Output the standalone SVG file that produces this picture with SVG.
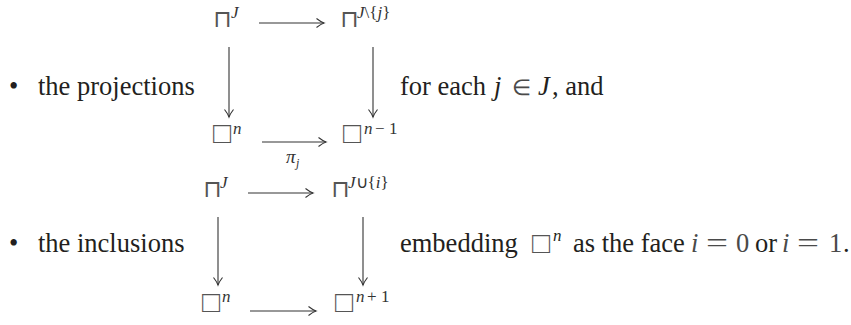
<svg xmlns="http://www.w3.org/2000/svg" width="851" height="325" viewBox="0 0 851 325">
<style>
.t{font-family:"Liberation Serif","Times New Roman",serif;font-size:26.5px;fill:#231f20}
.i{font-style:italic}
.g{fill:#4a4a4a}
.sym{font-family:"DejaVu Sans",sans-serif;font-size:24px;fill:#555;font-style:normal}
.box{font-family:"Liberation Serif","DejaVu Sans",serif;font-size:30px;fill:#555;font-style:normal}
.n{font-family:"Liberation Serif","Times New Roman",serif;font-size:17px;fill:#333}
.sp{font-size:17px}
.lab{font-family:"Liberation Serif","Times New Roman",serif;font-size:19px;fill:#333}
.ar{stroke:#333;stroke-width:1.1;fill:none}
</style>
<defs>
<marker id="ah" markerWidth="10" markerHeight="10" refX="0" refY="0" viewBox="-8 -5 10 10" markerUnits="userSpaceOnUse" orient="auto">
<path d="M-7.5,-4.5 Q-3,-1 0,0 Q-3,1 -7.5,4.5" stroke="#333" stroke-width="1.1" fill="none"/>
</marker>
</defs>
<rect width="851" height="325" fill="#fff"/>

<g id="line1">
<text class="t" x="9" y="95">•</text>
<text class="t" x="38" y="95">the projections</text>
<text class="t" x="400" y="95">for each <tspan class="i" x="494">j</tspan><tspan x="512" class="g" font-size="22">∈</tspan><tspan class="i" x="538">J</tspan><tspan x="552">, and</tspan></text>
</g>

<g id="line2">
<text class="t" x="9" y="252">•</text>
<text class="t" x="38" y="252">the inclusions</text>
<text class="t" x="400" y="252">embedding</text>
<text class="t"><tspan class="box" x="532" y="253">□</tspan><tspan class="i sp" x="553" y="241">n</tspan></text>
<text class="t" x="573" y="252">as the face</text>
<text class="t g" x="691" y="252"><tspan class="i">i</tspan></text>
<text class="t g" x="706" y="252" textLength="22" lengthAdjust="spacingAndGlyphs">=</text>
<text class="t g" x="736" y="252">0</text>
<text class="t" x="755" y="252">or</text>
<text class="t g" x="782" y="252"><tspan class="i">i</tspan></text>
<text class="t g" x="797" y="252" textLength="22" lengthAdjust="spacingAndGlyphs">=</text>
<text class="t g" x="829" y="252">1</text>
<text class="t" x="843" y="252">.</text>
</g>

<g id="d1-tl"><text class="n"><tspan class="sym" x="213" y="27">⊓</tspan><tspan class="i" x="231" y="18">J</tspan></text></g>
<g id="d1-tr"><text class="n"><tspan class="sym" x="340" y="27">⊓</tspan><tspan class="i" x="357" y="18">J</tspan><tspan>\{</tspan><tspan class="i">j</tspan><tspan>}</tspan></text></g>
<g id="d1-bl"><text class="n"><tspan class="box" x="213" y="143">□</tspan><tspan class="i" x="233" y="134">n</tspan></text></g>
<g id="d1-br"><text class="n"><tspan class="box" x="343" y="143">□</tspan><tspan class="i" x="364" y="134">n</tspan><tspan x="375">−</tspan><tspan x="389">1</tspan></text></g>
<g id="d1-lab"><text class="lab"><tspan class="i" x="286" y="163">π</tspan><tspan class="i" font-size="12" x="296" y="167">j</tspan></text></g>

<g id="d2-tl"><text class="n"><tspan class="sym" x="203" y="197">⊓</tspan><tspan class="i" x="220" y="188">J</tspan></text></g>
<g id="d2-tr"><text class="n"><tspan class="sym" x="331" y="197">⊓</tspan><tspan class="i" x="348" y="188">J</tspan><tspan>∪{</tspan><tspan class="i">i</tspan><tspan>}</tspan></text></g>
<g id="d2-bl"><text class="n"><tspan class="box" x="202" y="312">□</tspan><tspan class="i" x="222" y="302">n</tspan></text></g>
<g id="d2-br"><text class="n"><tspan class="box" x="335" y="312">□</tspan><tspan class="i" x="356" y="302">n</tspan><tspan x="367">+</tspan><tspan x="381">1</tspan></text></g>

<g id="connectors">
<line class="ar" x1="259" y1="23" x2="324" y2="23" marker-end="url(#ah)"/>
<line class="ar" x1="262" y1="142" x2="326" y2="142" marker-end="url(#ah)"/>
<line class="ar" x1="229" y1="47" x2="229" y2="117" marker-end="url(#ah)"/>
<line class="ar" x1="373" y1="47" x2="373" y2="117" marker-end="url(#ah)"/>
<line class="ar" x1="248" y1="193" x2="313" y2="193" marker-end="url(#ah)"/>
<line class="ar" x1="250" y1="311" x2="316" y2="311" marker-end="url(#ah)"/>
<line class="ar" x1="218" y1="217" x2="218" y2="285" marker-end="url(#ah)"/>
<line class="ar" x1="363" y1="217" x2="363" y2="285" marker-end="url(#ah)"/>
</g>
</svg>
